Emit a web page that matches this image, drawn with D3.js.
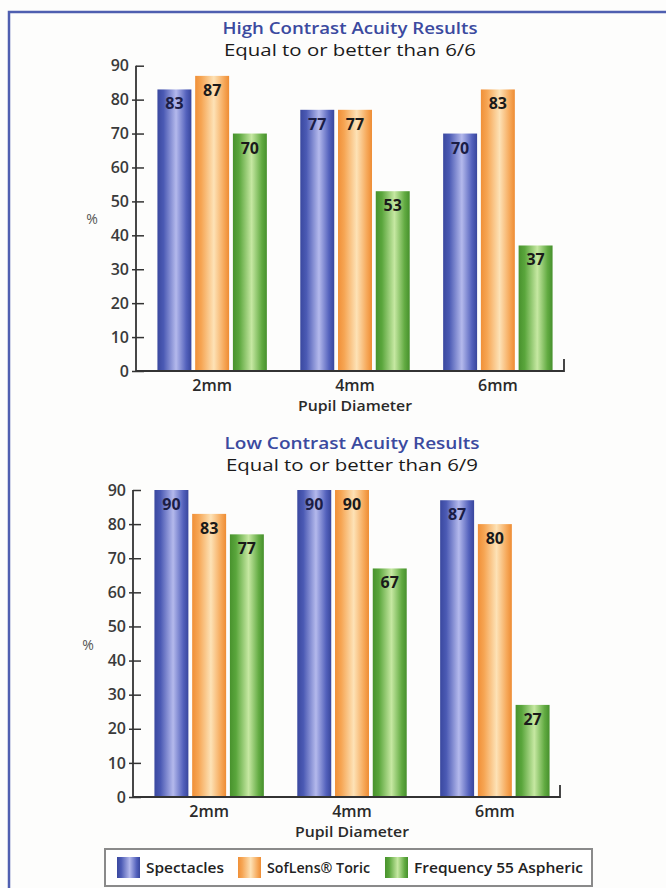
<!DOCTYPE html>
<html>
<head>
<meta charset="utf-8">
<script src="https://cdn.jsdelivr.net/npm/d3@7"></script>
<style>
  html, body { margin: 0; padding: 0; background: #fdfdfc; }
  svg { display: block; }
  text { font-family: "Open Sans", "Noto Sans", sans-serif; }
</style>
</head>
<body>
<svg id="chart" width="666" height="888"></svg>
<script>
// ---------- data ----------
const categories = ["2mm", "4mm", "6mm"];
const seriesNames = ["Spectacles", "SofLens\u00AE Toric", "Frequency 55 Aspheric"];
const highSpectacles = [83, 77, 70];
const highSofLens = [87, 77, 83];
const highFrequency = [70, 53, 37];
const lowSpectacles = [90, 90, 87];
const lowSofLens = [83, 90, 80];
const lowFrequency = [77, 67, 27];
const yTickValues = [0, 10, 20, 30, 40, 50, 60, 70, 80, 90];
const titles = ["High Contrast Acuity Results", "Low Contrast Acuity Results"];
const subtitles = ["Equal to or better than 6/6", "Equal to or better than 6/9"];
const xAxisTitle = "Pupil Diameter";
const yAxisTitle = "%";

// ---------- styling ----------
const seriesColors = [
  ["#3a489f", "#4b5ab4", "#b4b9ec", "#5361bc", "#38469c"],
  ["#f09038", "#f6a553", "#fde2b6", "#f6a859", "#ee8c33"],
  ["#48922d", "#5aa63c", "#c6e8a2", "#62ab42", "#46902c"]
];
const labelColors = ["#1b1d45", "#1a1a1a", "#1a1a1a"];

const svg = d3.select("#chart");
const defs = svg.append("defs");
seriesColors.forEach((cols, i) => {
  const g = defs.append("linearGradient").attr("id", "grad" + i)
    .attr("x1", "0%").attr("x2", "100%").attr("y1", "0%").attr("y2", "0%");
  const offs = [0, 0.18, 0.55, 0.85, 1];
  cols.forEach((c, j) => g.append("stop").attr("offset", offs[j]).attr("stop-color", c));
});

// page border
svg.append("path")
  .attr("d", "M9,888 L9,12 L666,12")
  .attr("fill", "none").attr("stroke", "#4f5fb0").attr("stroke-width", 2.5);

function drawChart(cfg) {
  const values = [cfg.s0, cfg.s1, cfg.s2];
  const y = d3.scaleLinear().domain([0, 90]).range([cfg.yBottom, cfg.yTop]);
  const x0 = d3.scaleBand().domain(categories)
    .range([cfg.axisX, cfg.axisX + 438]).paddingInner(0.234).paddingOuter(0.15);
  const x1 = d3.scaleBand().domain(d3.range(seriesNames.length))
    .range([0, x0.bandwidth()]).paddingInner(0.1);

  const g = svg.append("g");

  // titles
  g.append("text").attr("x", cfg.titleX).attr("y", cfg.titleY)
    .attr("text-anchor", "middle").attr("fill", "#3b4a9f")
    .attr("font-size", 16).attr("font-weight", 600)
    .attr("textLength", 255).attr("lengthAdjust", "spacingAndGlyphs")
    .text(cfg.title);
  g.append("text").attr("x", cfg.titleX).attr("y", cfg.titleY + 22)
    .attr("text-anchor", "middle").attr("fill", "#1a1a1a")
    .attr("font-size", 16).attr("font-weight", 500)
    .attr("textLength", 252).attr("lengthAdjust", "spacingAndGlyphs")
    .text(cfg.subtitle);

  // bars
  categories.forEach((cat, ci) => {
    const grp = g.append("g").attr("transform", `translate(${x0(cat)},0)`);
    seriesNames.forEach((s, si) => {
      const v = values[si][ci];
      grp.append("rect")
        .attr("x", x1(si)).attr("y", y(v))
        .attr("width", x1.bandwidth()).attr("height", y(0) - y(v))
        .attr("fill", `url(#grad${si})`);
      grp.append("text")
        .attr("x", x1(si) + x1.bandwidth() / 2).attr("y", y(v) + 20)
        .attr("text-anchor", "middle").attr("font-size", 16).attr("font-weight", 700)
        .attr("fill", labelColors[si]).text(v);
    });
  });

  // y axis
  const ax = g.append("g").attr("transform", `translate(${cfg.axisX},0)`);
  ax.call(d3.axisLeft(y).tickValues(yTickValues).tickSize(0).tickPadding(7))
    .call(a => a.select(".domain").remove())
    .call(a => a.selectAll(".tick text")
      .attr("font-size", 16).attr("font-weight", 600).attr("fill", "#3a3a3a")
      .attr("font-family", "'Open Sans', sans-serif"));
  ax.selectAll(".tick").append("line")
    .attr("x1", d => d === 90 ? 0 : -4).attr("x2", 8)
    .attr("stroke", "#333").attr("stroke-width", 1.5);
  ax.append("line").attr("x1", 0).attr("x2", 0)
    .attr("y1", y(90)).attr("y2", y(0)).attr("stroke", "#333").attr("stroke-width", 1.8);

  // x axis
  g.append("path")
    .attr("d", `M${cfg.axisX},${y(0)} L${cfg.xEnd},${y(0)} L${cfg.xEnd},${y(0) - 12}`)
    .attr("fill", "none").attr("stroke", "#333").attr("stroke-width", 1.8);
  categories.forEach(cat => {
    g.append("text").attr("x", x0(cat) + x0.bandwidth() / 2).attr("y", y(0) + 20)
      .attr("text-anchor", "middle").attr("font-size", 16).attr("font-weight", 600)
      .attr("fill", "#2a2a2a").text(cat);
  });
  g.append("text").attr("x", x0("4mm") + x0.bandwidth() / 2).attr("y", y(0) + 40)
    .attr("text-anchor", "middle").attr("font-size", 15).attr("font-weight", 600)
    .attr("fill", "#2a2a2a").attr("textLength", 114).attr("lengthAdjust", "spacingAndGlyphs")
    .text(xAxisTitle);

  g.append("text").attr("x", cfg.pctX).attr("y", y(45) + 6)
    .attr("text-anchor", "middle").attr("font-size", 14).attr("fill", "#555")
    .text(yAxisTitle);
}

drawChart({ s0: highSpectacles, s1: highSofLens, s2: highFrequency,
  title: titles[0], subtitle: subtitles[0],
  axisX: 136, xEnd: 564, yTop: 65.7, yBottom: 371, titleX: 350, titleY: 34, pctX: 92 });
drawChart({ s0: lowSpectacles, s1: lowSofLens, s2: lowFrequency,
  title: titles[1], subtitle: subtitles[1],
  axisX: 133, xEnd: 560, yTop: 490, yBottom: 797, titleX: 352, titleY: 449, pctX: 88 });

// legend
const lg = svg.append("g");
lg.append("rect").attr("x", 105).attr("y", 849).attr("width", 487).attr("height", 37)
  .attr("fill", "#fff").attr("stroke", "#8a8a8a").attr("stroke-width", 2);
const legendSwatchX = [117, 238, 385];
const legendTextW = [78, 103, 169];
seriesNames.forEach((s, i) => {
  lg.append("rect").attr("x", legendSwatchX[i]).attr("y", 857)
    .attr("width", 23).attr("height", 21).attr("fill", `url(#grad${i})`);
  lg.append("text").attr("x", legendSwatchX[i] + 29).attr("y", 873)
    .attr("font-size", 15).attr("font-weight", 600).attr("fill", "#222")
    .attr("textLength", legendTextW[i]).attr("lengthAdjust", "spacingAndGlyphs")
    .text(s);
});
</script>
</body>
</html>
